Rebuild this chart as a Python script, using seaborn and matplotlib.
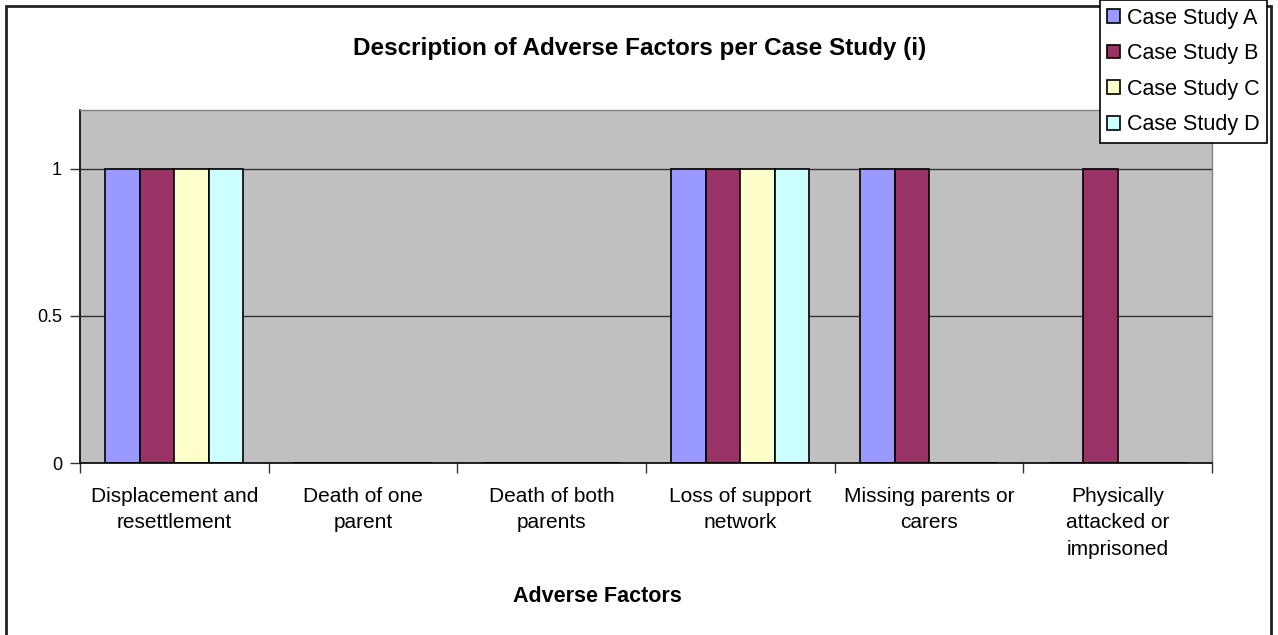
import pandas as pd
import seaborn as sns
import matplotlib.pyplot as plt
from matplotlib.patches import Rectangle

# Datos del gráfico
factores = ['Displacement and\nresettlement', 'Death of one\nparent', 'Death of both\nparents',
            'Loss of support\nnetwork', 'Missing parents or\ncarers', 'Physically\nattacked or\nimprisoned']
casos = ['Case Study A', 'Case Study B', 'Case Study C', 'Case Study D']
caso_a = [1, 0, 0, 1, 1, 0]
caso_b = [1, 0, 0, 1, 1, 1]
caso_c = [1, 0, 0, 1, 0, 0]
caso_d = [1, 0, 0, 1, 0, 0]
colores = ['#9999FF', '#993366', '#FFFFCC', '#CCFFFF']

filas = []
for caso, valores in zip(casos, [caso_a, caso_b, caso_c, caso_d]):
    for factor, v in zip(factores, valores):
        filas.append({'Factor': factor, 'Caso': caso, 'Valor': v})
df = pd.DataFrame(filas)

sns.set_theme(style='white')
plt.rcParams['font.family'] = ['Liberation Sans', 'DejaVu Sans']
plt.rcParams['text.color'] = 'black'
plt.rcParams['xtick.labelcolor'] = 'black'
plt.rcParams['ytick.labelcolor'] = 'black'

fig = plt.figure(figsize=(12.78, 6.35), dpi=100)
ax = fig.add_axes([80 / 1278, 1 - 463 / 635, 1132 / 1278, 353 / 635])
ax.set_facecolor('#C0C0C0')

sns.barplot(data=df, x='Factor', y='Valor', hue='Caso', palette=colores,
            width=0.73, edgecolor='black', linewidth=1.2, saturation=1, ax=ax)

ax.set_ylim(0, 1.2)
ax.set_xlim(-0.5, 5.5)
ax.set_yticks([0, 0.5, 1])
ax.set_yticklabels(['0', '0.5', '1'], fontsize=13)
ax.yaxis.grid(True, color='#333333', linewidth=1)
ax.set_axisbelow(True)

# Marcas del eje x entre categorías, estilo Excel
ax.set_xticks(range(len(factores)))
ax.set_xticklabels(factores, fontsize=15, linespacing=1.5)
ax.set_xticks([i - 0.5 for i in range(len(factores) + 1)], minor=True)
ax.tick_params(axis='x', which='major', length=0, pad=17)
ax.tick_params(axis='x', which='minor', length=7, width=1, color='#333333', direction='out', bottom=True)
ax.tick_params(axis='y', length=7, width=1, color='#333333', direction='out', left=True, pad=6)
ax.set_xlabel('')
ax.set_ylabel('')

for lado in ['left', 'bottom']:
    ax.spines[lado].set_color('black')
    ax.spines[lado].set_linewidth(1.2)
for lado in ['top', 'right']:
    ax.spines[lado].set_color('#808080')
    ax.spines[lado].set_linewidth(1)

# Leyenda fuera del área
ax.get_legend().remove()
handles, labels = ax.get_legend_handles_labels()
leg = fig.legend(handles, labels, loc='upper right', bbox_to_anchor=(1267 / 1278, 1.0),
                 fontsize=15.5, frameon=True, fancybox=False, edgecolor='black', framealpha=1,
                 handlelength=0.6, handleheight=0.6, handletextpad=0.3, labelspacing=0.68,
                 borderpad=0.35, borderaxespad=0)
leg.get_frame().set_linewidth(1.2)

fig.text(640 / 1278, 1 - 48 / 635, 'Description of Adverse Factors per Case Study (i)',
         ha='center', va='center', fontsize=17.5, fontweight='bold')
fig.text(597 / 1278, 1 - 596 / 635, 'Adverse Factors', ha='center', va='center',
         fontsize=15.5, fontweight='bold')

# Borde de la figura
fig.patches.append(Rectangle((6 / 1278, -0.02), 1265 / 1278, 1.02 - 6 / 635, transform=fig.transFigure,
                             fill=False, edgecolor='#222222', linewidth=2, zorder=0))

plt.savefig('out.png', dpi=100)
plt.close()
